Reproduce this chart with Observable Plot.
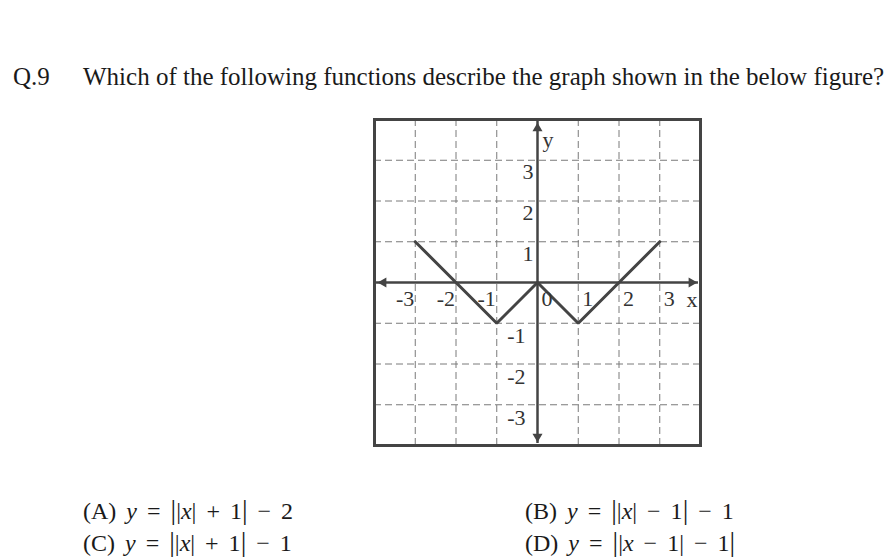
<!DOCTYPE html>
<html>
<head>
<meta charset="utf-8">
<script src="https://cdn.jsdelivr.net/npm/d3@7"></script>
<script src="https://cdn.jsdelivr.net/npm/@observablehq/plot@0.6"></script>
<style>
  html, body { margin: 0; padding: 0; background: #fff; }
  #wrap { position: relative; width: 891px; height: 559px; overflow: hidden; background: #fff; }
  #wrap svg { position: absolute; left: 0; top: 0; }
  .t { position: absolute; white-space: nowrap; font-family: "Liberation Serif", "Times New Roman", serif; color: #1a1a1a; }
  .title { font-size: 25px; line-height: 25px; }
  .opt { font-size: 24px; line-height: 24px; word-spacing: 4px; }
  .opt i { font-style: italic; }
  .bar { display: inline-block; font-size: 28px; line-height: 24px; vertical-align: 0; }
</style>
</head>
<body>
<div id="wrap">
  <div class="t title" style="left:13px; top:64px;">Q.9</div>
  <div class="t title" id="q" style="left:83px; top:64px;">Which of the following functions describe the graph shown in the below figure?</div>
  <div class="t opt" style="left:83px; top:498px;">(A) <i>y</i> = <span class="bar">|</span>|<i>x</i>| + 1<span class="bar">|</span> − 2</div>
  <div class="t opt" style="left:525px; top:498px;">(B) <i>y</i> = <span class="bar">|</span>|<i>x</i>| − 1<span class="bar">|</span> − 1</div>
  <div class="t opt" style="left:83px; top:530px;">(C) <i>y</i> = <span class="bar">|</span>|<i>x</i>| + 1<span class="bar">|</span> − 1</div>
  <div class="t opt" style="left:525px; top:530px;">(D) <i>y</i> = <span class="bar">|</span>|<i>x</i> − 1| − 1<span class="bar">|</span></div>
</div>
<script>
// ---- data ----
const gridValues = [-3, -2, -1, 1, 2, 3];
const xNegTicks = ["-3", "-2", "-1"];
const xPosTicks = ["0", "1", "2", "3"];
const yPosTicks = ["3", "2", "1"];
const yNegTicks = ["-1", "-2", "-3"];
const curveX = [-3, -1, 0, 1, 3];
const curveY = [1, -1, 0, -1, 1];
const axisExtent = 3.95;   // axis lines reach almost to the frame
const headPos = 3.78;      // arrowhead centres
const heads = [
  {x: 0, y: headPos, angle: 0},
  {x: 0, y: -headPos, angle: 180},
  {x: -headPos, y: 0, angle: -90},
  {x: headPos, y: 0, angle: 90}
];
const curve = curveX.map((x, i) => ({x, y: curveY[i]}));

const ink = "#444";
const font = "Liberation Serif, Times New Roman, serif";
const lab = {fontSize: 22, fill: "#333", fontFamily: font};

const chart = Plot.plot({
  width: 891,
  height: 559,
  marginLeft: 374,
  marginRight: 191,
  marginTop: 119,
  marginBottom: 114,
  style: {background: "transparent", fontFamily: font, overflow: "visible"},
  x: {domain: [-4, 4], axis: null},
  y: {domain: [-4, 4], axis: null},
  marks: [
    // dashed grid
    Plot.ruleX(gridValues, {x: d => d, y1: -4, y2: 4, stroke: "#7a7a7a", strokeWidth: 1, strokeDasharray: "7,4"}),
    Plot.ruleY(gridValues, {y: d => d, x1: -4, x2: 4, stroke: "#7a7a7a", strokeWidth: 1, strokeDasharray: "7,4"}),
    // axes
    Plot.ruleY([0], {x1: -axisExtent, x2: axisExtent, stroke: ink, strokeWidth: 2.5}),
    Plot.ruleX([0], {y1: -axisExtent, y2: axisExtent, stroke: ink, strokeWidth: 2.5}),
    Plot.dot(heads, {x: "x", y: "y", rotate: "angle", symbol: "triangle2", r: 4.8, fill: ink, stroke: "none"}),
    // the graph
    Plot.line(curve, {x: "x", y: "y", stroke: ink, strokeWidth: 3, strokeLinejoin: "miter"}),
    // tick labels
    Plot.text(xNegTicks, {x: d => +d, y: 0, text: d => d, textAnchor: "end", dx: -1, dy: 16, ...lab}),
    Plot.text(xPosTicks, {x: d => +d, y: 0, text: d => d, textAnchor: "start", dx: 4, dy: 16, ...lab}),
    Plot.text(yPosTicks, {x: 0, y: d => +d, text: d => d, textAnchor: "end", dx: -4, dy: 12, ...lab}),
    Plot.text(yNegTicks, {x: 0, y: d => +d, text: d => d, textAnchor: "end", dx: -12, dy: 13, ...lab}),
    // axis names
    Plot.text(["y"], {x: 0, y: 4, text: d => d, textAnchor: "start", dx: 5, dy: 20, ...lab}),
    Plot.text(["x"], {x: 4, y: 0, text: d => d, textAnchor: "end", dx: -3, dy: 17, ...lab}),
    // frame
    Plot.frame({stroke: ink, strokeWidth: 3})
  ]
});
document.getElementById("wrap").prepend(chart);
</script>
</body>
</html>
